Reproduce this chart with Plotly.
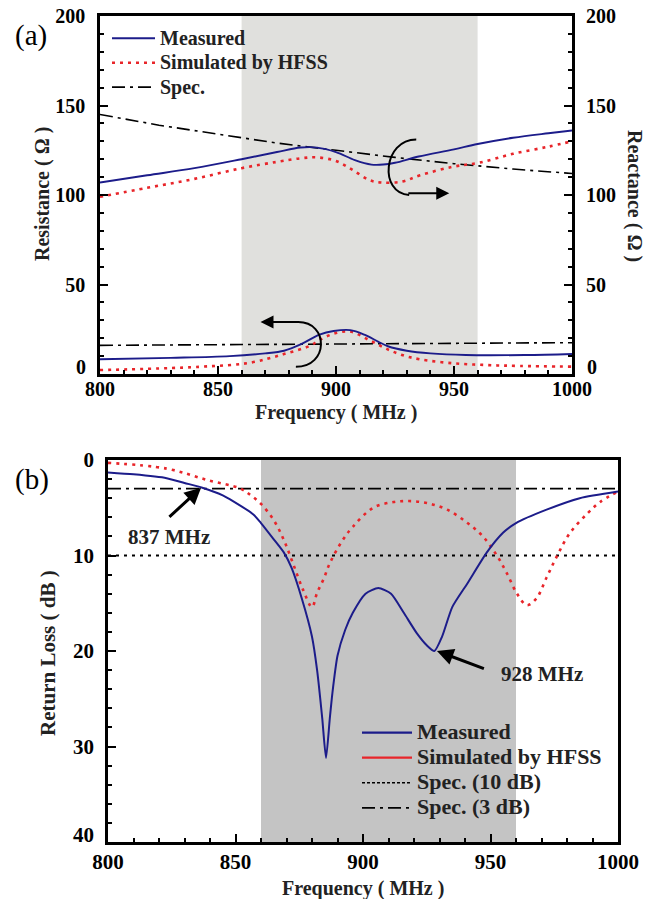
import plotly.graph_objects as go

# ---------------- Panel (a) data ----------------
freq_X_meas = [800, 820, 840, 860, 875, 885, 892, 900, 908, 915, 920, 925, 935, 950, 960, 975, 990, 1000]
X_meas =      [107, 111, 115, 120, 124, 126.5, 126.5, 124, 119.5, 117, 117, 118, 121.5, 125.5, 128.5, 132, 134.5, 136]
freq_X_sim =  [800, 820, 840, 860, 875, 885, 892, 900, 907, 914, 919, 928, 935.6, 949.6, 960.6, 975, 990, 1000]
X_sim =       [99, 104, 109, 115, 118.5, 120.5, 121, 119, 114, 108.4, 107, 107.5, 111, 115.8, 118, 123, 127, 130]
freq_X_spec = [800, 825, 850, 875, 900, 925, 950, 975, 1000]
X_spec =      [145, 139, 134, 129, 125, 121, 117.5, 114.5, 112]

freq_R_meas = [800, 830, 855, 870, 878, 885, 893, 899, 906, 912, 918, 922, 930, 940, 955, 980, 1000]
R_meas =      [8.2, 9, 10, 11.5, 13, 16.5, 22, 24, 24.5, 22, 18, 15.5, 13, 11.5, 10.6, 10.6, 11.2]
freq_R_sim =  [800, 842, 863.6, 877.6, 889, 893, 899, 906, 914, 921.5, 928, 935.6, 949.6, 963.8, 978, 1000]
R_sim =       [2.2, 4, 6.3, 11, 15.8, 19, 22.5, 23.7, 19, 14, 10.6, 8.2, 6, 5, 4.5, 4.1]
freq_R_spec = [800, 900, 1000]
R_spec =      [16, 16.8, 17.5]

# ---------------- Panel (b) data ----------------
freq_RL_meas = [800, 810, 823, 830, 837, 845, 849, 857, 860, 865, 869, 872, 876, 880, 882, 884, 885.5,
                887, 888, 890, 893, 896, 901, 906, 911, 916, 921, 925, 928, 931, 935, 941, 948.5,
                955, 960, 972, 985, 1000]
RL_meas =      [1.3, 1.5, 1.9, 2.4, 2.9, 3.7, 4.3, 5.7, 6.6, 8.3, 9.7, 11.3, 14.5, 18.5, 22, 27, 31.2,
                27, 24.4, 20.5, 17.8, 16, 14, 13.4, 14, 16, 18.1, 19.4, 20, 18.5, 15.4, 12.9, 9.7,
                7.6, 6.6, 5.2, 4.0, 3.3]
freq_RL_sim = [800, 823, 839, 852, 856, 860, 865, 869, 872.5, 876.5, 880, 882, 884.5, 887, 892, 896,
               904, 912, 918, 925, 933, 941, 947, 952.5, 956.5, 960.4, 964.3, 968, 972, 976, 981,
               988, 993, 1000]
RL_sim =      [0.3, 0.9, 2.1, 3.0, 3.7, 4.6, 6.3, 8.4, 10.8, 13.6, 15.4, 13.9, 12.5, 10.8, 8.4, 7,
               5, 4.4, 4.3, 4.5, 5.2, 6.6, 8, 10, 11.9, 14, 15.2, 14.5, 12.3, 10.1, 7.7,
               5.6, 4.4, 3.3]
freq_spec_b = [800, 1000]
spec_10dB = [10, 10]
spec_3dB = [3, 3]

band = [860, 960]

x_ticks = [800, 850, 900, 950, 1000]
ab_ticks = [0, 50, 100, 150, 200]
rl_ticks = [0, 10, 20, 30, 40]

NAVY = "#1c1c8a"
RED = "#e8252a"
FONT = "Liberation Serif"
W, H = 652, 899

def px(v):
    return v / W

def py(v):
    return 1 - v / H

def b(s):
    return "<b>" + str(s) + "</b>"

def big(s, size):
    return '<span style="font-size:%dpx"><b>%s</b></span>' % (size, s)

meas_line = dict(color=NAVY, width=1.9)
sim_line = dict(color=RED, width=2.6, dash="3px,5px")
spec_dd = dict(color="black", width=1.6, dash="13px,5px,3px,5px")
spec_dot = dict(color="black", width=2, dash="3px,5px")

fig = go.Figure()

# Panel (a)
fig.add_trace(go.Scatter(x=freq_X_spec, y=X_spec, mode="lines", line=spec_dd, name="Spec.",
                         xaxis="x", yaxis="y2", showlegend=False))
fig.add_trace(go.Scatter(x=freq_R_spec, y=R_spec, mode="lines", line=spec_dd, name="Spec.",
                         xaxis="x", yaxis="y", showlegend=False))
fig.add_trace(go.Scatter(x=freq_X_sim, y=X_sim, mode="lines", line=sim_line, line_shape="spline",
                         name="Simulated by HFSS", xaxis="x", yaxis="y2", showlegend=False))
fig.add_trace(go.Scatter(x=freq_R_sim, y=R_sim, mode="lines", line=sim_line, line_shape="spline",
                         name="Simulated by HFSS", xaxis="x", yaxis="y", showlegend=False))
fig.add_trace(go.Scatter(x=freq_X_meas, y=X_meas, mode="lines", line=meas_line, line_shape="spline",
                         name="Measured", xaxis="x", yaxis="y2", showlegend=False))
fig.add_trace(go.Scatter(x=freq_R_meas, y=R_meas, mode="lines", line=meas_line, line_shape="spline",
                         name="Measured", xaxis="x", yaxis="y", showlegend=False))
for nm, ln in [("Measured", meas_line), ("Simulated by HFSS", sim_line), ("Spec.", spec_dd)]:
    fig.add_trace(go.Scatter(x=[None], y=[None], mode="lines", line=ln, name=big(nm, 20),
                             xaxis="x", yaxis="y", legend="legend"))

# Panel (b)
fig.add_trace(go.Scatter(x=freq_spec_b, y=spec_10dB, mode="lines", line=spec_dot, name="Spec. (10 dB)",
                         xaxis="x2", yaxis="y3", showlegend=False))
fig.add_trace(go.Scatter(x=freq_spec_b, y=spec_3dB, mode="lines", line=spec_dd, name="Spec. (3 dB)",
                         xaxis="x2", yaxis="y3", showlegend=False))
fig.add_trace(go.Scatter(x=freq_RL_sim, y=RL_sim, mode="lines", line=sim_line, line_shape="spline",
                         name="Simulated by HFSS", xaxis="x2", yaxis="y3", showlegend=False))
fig.add_trace(go.Scatter(x=freq_RL_meas, y=RL_meas, mode="lines", line=dict(color=NAVY, width=2),
                         line_shape="spline", line_smoothing=0.6,
                         name="Measured", xaxis="x2", yaxis="y3", showlegend=False))
for nm, ln in [("Measured", dict(color=NAVY, width=2.2)), ("Simulated by HFSS", dict(color=RED, width=2.2)),
               ("Spec. (10 dB)", dict(color="black", width=1.6, dash="3px,2px")),
               ("Spec. (3 dB)", spec_dd)]:
    fig.add_trace(go.Scatter(x=[None], y=[None], mode="lines", line=ln, name=big(nm, 22),
                             xaxis="x2", yaxis="y3", legend="legend2"))

tickfont_a = dict(family=FONT, size=20, color="black", weight="bold")
tickfont_b = dict(family=FONT, size=21, color="black", weight="bold")
minor_x = dict(ticks="inside", dtick=10, ticklen=4, tickwidth=1.5, tickcolor="black", showgrid=False)

def xax(domain, anchor, tf, standoff):
    return dict(domain=domain, anchor=anchor, range=[800, 1000], tickvals=x_ticks,
                ticktext=[b(t) for t in x_ticks],
                ticks="inside", ticklen=8, tickwidth=2, tickcolor="black", minor=minor_x,
                showline=True, linecolor="black", linewidth=2.5, mirror=True, showgrid=False,
                zeroline=False, tickfont=tf, ticklabelstandoff=standoff, automargin=False)

def yax(**kw):
    d = dict(ticks="inside", ticklen=8, tickwidth=2, tickcolor="black",
             showline=True, linecolor="black", linewidth=2.5, showgrid=False, zeroline=False,
             tickfont=tickfont_a, ticklabelstandoff=8, automargin=False)
    d.update(kw)
    return d

# the bottom-most y labels sit slightly raised in the original; they are drawn as annotations below
ab_text = ["" if t == ab_ticks[0] else b(t) for t in ab_ticks]
rl_text = ["" if t == rl_ticks[-1] else b(t) for t in rl_ticks]

fig.update_layout(
    width=W, height=H, margin=dict(l=0, r=0, t=0, b=0, autoexpand=False),
    paper_bgcolor="white", plot_bgcolor="white",
    xaxis=xax([px(100), px(572)], "y", tickfont_a, -5),
    yaxis=yax(domain=[py(374), py(16)], anchor="x", range=[0, 200], tickvals=ab_ticks,
              ticktext=ab_text,
              minor=dict(ticks="inside", dtick=10, ticklen=4, tickwidth=1.5, tickcolor="black", showgrid=False)),
    yaxis2=yax(overlaying="y", side="right", anchor="x", range=[0, 200], tickvals=ab_ticks,
               ticktext=ab_text, linewidth=3, ticklabelstandoff=7,
               minor=dict(ticks="inside", dtick=10, ticklen=4, tickwidth=1.5, tickcolor="black", showgrid=False)),
    xaxis2=xax([px(108), px(618)], "y3", tickfont_b, -1),
    yaxis3=yax(domain=[py(842), py(460)], anchor="x2", range=[40, 0], tickvals=rl_ticks,
               ticktext=rl_text, mirror=True, tickfont=tickfont_b, ticklabelstandoff=7,
               minor=dict(ticks="inside", dtick=2, ticklen=4, tickwidth=1.5, tickcolor="black", showgrid=False)),
    legend=dict(x=px(107), y=py(21), xanchor="left", yanchor="top", bgcolor="rgba(0,0,0,0)",
                font=dict(family=FONT, size=16.5, color="#222"), itemwidth=43,
                tracegroupgap=0, traceorder="normal"),
    legend2=dict(x=px(357), y=py(715), xanchor="left", yanchor="top", bgcolor="rgba(0,0,0,0)",
                 font=dict(family=FONT, size=17, color="#222"), itemwidth=50,
                 tracegroupgap=0, traceorder="normal"),
)

# shaded bands
fig.add_shape(type="rect", xref="x", yref="y domain", x0=band[0], x1=band[1], y0=0, y1=1,
              fillcolor="#e0e0dd", line_width=0, layer="below")
fig.add_shape(type="rect", xref="x2", yref="y3 domain", x0=band[0], x1=band[1], y0=0, y1=1,
              fillcolor="#c4c4c4", line_width=0, layer="below")

# curved pointers in (a)
fig.add_shape(type="path", xref="x", yref="y", path="M 934,131 C 920,131 918,101 931,100",
              line=dict(color="black", width=2))
fig.add_shape(type="path", xref="x", yref="y", path="M 884,29 C 897,29 897,4 883,4",
              line=dict(color="black", width=2))

arrow = dict(showarrow=True, arrowhead=2, arrowsize=1.3, arrowwidth=2, arrowcolor="black", text="")
fig.add_annotation(x=948, y=101, ax=930, ay=101, xref="x", yref="y", axref="x", ayref="y", **arrow)
fig.add_annotation(x=868, y=29, ax=885, ay=29, xref="x", yref="y", axref="x", ayref="y", **arrow)

# arrows in (b)
fig.add_annotation(x=836.5, y=2.9, ax=823.5, ay=6.1, xref="x2", yref="y3", axref="x2", ayref="y3",
                   showarrow=True, arrowhead=2, arrowsize=1.1, arrowwidth=3, arrowcolor="black", text="")
fig.add_annotation(x=929, y=20, ax=948, ay=21.9, xref="x2", yref="y3", axref="x2", ayref="y3",
                   showarrow=True, arrowhead=2, arrowsize=1.1, arrowwidth=3, arrowcolor="black", text="")

lab = dict(family=FONT, size=21, color="#222")
fig.add_annotation(x=824, y=8.1, xref="x2", yref="y3", text=b("837 MHz"), showarrow=False, font=lab)
fig.add_annotation(x=970, y=22.4, xref="x2", yref="y3", text=b("928 MHz"), showarrow=False, font=lab)

cm = dict(xref="paper", yref="paper", showarrow=False, xanchor="center", yanchor="middle")

# raised bottom y-axis labels
fig.add_annotation(x=px(88), y=py(367), text=b(ab_ticks[0]), font=tickfont_a,
                   xref="paper", yref="paper", showarrow=False, xanchor="right", yanchor="middle")
fig.add_annotation(x=px(585), y=py(367), text=b(ab_ticks[0]), font=tickfont_a,
                   xref="paper", yref="paper", showarrow=False, xanchor="left", yanchor="middle")
fig.add_annotation(x=px(96), y=py(835), text=b(rl_ticks[-1]), font=tickfont_b,
                   xref="paper", yref="paper", showarrow=False, xanchor="right", yanchor="middle")

# panel labels
fig.add_annotation(x=px(31), y=py(35), text="(a)", font=dict(family=FONT, size=29, color="black"), **cm)
fig.add_annotation(x=px(32), y=py(479), text="(b)", font=dict(family=FONT, size=29, color="black"), **cm)

# axis titles
tf = dict(family=FONT, size=20, color="#222")
fig.add_annotation(x=px(336), y=py(412), text=b("Frequency ( MHz )"), font=tf, **cm)
fig.add_annotation(x=px(363), y=py(888), text=b("Frequency ( MHz )"), font=tf, **cm)
fig.add_annotation(x=px(42), y=py(194), text=b("Resistance ( Ω )"), font=tf, textangle=-90, **cm)
fig.add_annotation(x=px(635), y=py(196), text=b("Reactance ( Ω )"), font=tf, textangle=90, **cm)
fig.add_annotation(x=px(48), y=py(653), text=b("Return Loss ( dB )"),
                   font=dict(family=FONT, size=21, color="#222"), textangle=-90, **cm)

fig.write_html("out.html", post_script="document.body.style.margin='0';",
               config={"displayModeBar": False})
